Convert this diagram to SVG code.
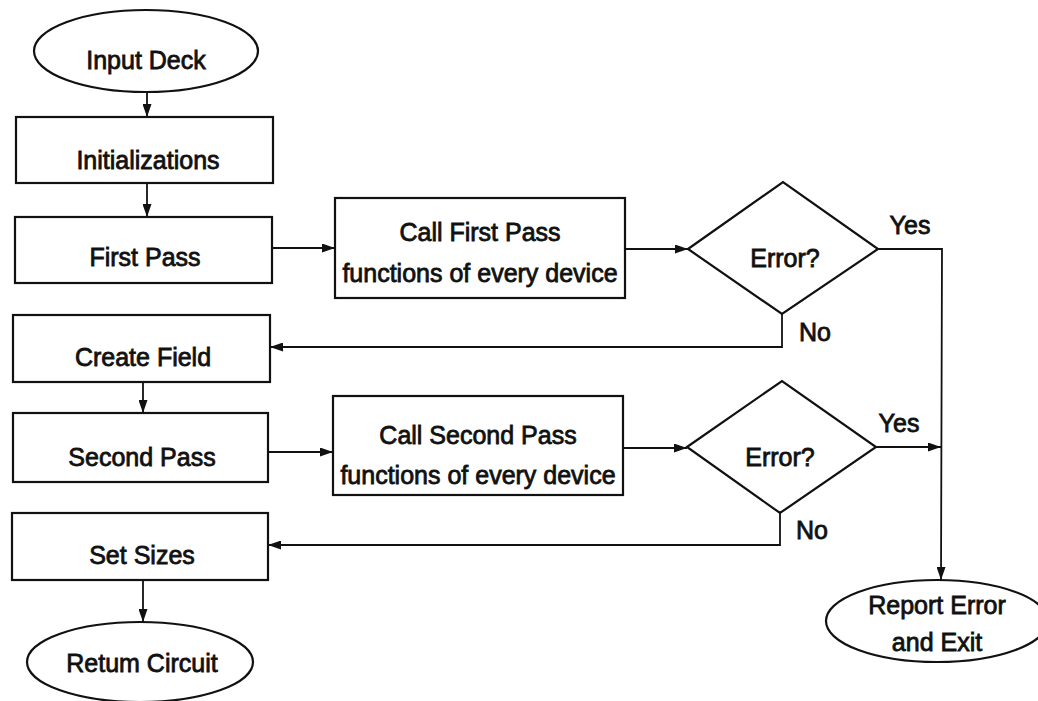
<svg xmlns="http://www.w3.org/2000/svg" width="1038" height="701" viewBox="0 0 1038 701">
<style>
.box{fill:#fff;stroke:#111;stroke-width:2.2}
.t{font-family:"Liberation Sans",Arial,sans-serif;font-size:25px;fill:#111;stroke:#111;stroke-width:0.8;text-anchor:middle}
.c{fill:none;stroke:#111;stroke-width:1.8}
</style>
<defs>
<marker id="ah" markerUnits="userSpaceOnUse" markerWidth="13" markerHeight="9" refX="13" refY="4.5" orient="auto">
<path d="M0,0 L13,4.5 L0,9 z" fill="#111"/>
</marker>
</defs>
<rect width="1038" height="701" fill="#fff"/>
<g id="connectors">
<path class="c" d="M147,93 L147,117" marker-end="url(#ah)"/>
<path class="c" d="M147,183 L147,217" marker-end="url(#ah)"/>
<path class="c" d="M272,248 L335,248" marker-end="url(#ah)"/>
<path class="c" d="M625,249 L688,249" marker-end="url(#ah)"/>
<path class="c" d="M878,249 L942,249 L941,580" marker-end="url(#ah)"/>
<path class="c" d="M782,314 L782,347 L270,347" marker-end="url(#ah)"/>
<path class="c" d="M143,382 L143,413" marker-end="url(#ah)"/>
<path class="c" d="M268,452 L333,452" marker-end="url(#ah)"/>
<path class="c" d="M623,448 L687,448" marker-end="url(#ah)"/>
<path class="c" d="M876,447 L941,447" marker-end="url(#ah)"/>
<path class="c" d="M780,513 L780,545 L268,545" marker-end="url(#ah)"/>
<path class="c" d="M143,580 L143,622" marker-end="url(#ah)"/>
</g>
<g id="input-deck">
<ellipse class="box" cx="146" cy="51" rx="112" ry="41"/>
<text class="t" x="146" y="69">Input Deck</text>
</g>
<g id="initializations">
<rect class="box" x="16" y="117" width="257" height="66"/>
<text class="t" x="148" y="169">Initializations</text>
</g>
<g id="first-pass">
<rect class="box" x="15" y="217" width="257" height="66"/>
<text class="t" x="145" y="266">First Pass</text>
</g>
<g id="call-first-pass">
<rect class="box" x="335" y="198" width="290" height="100"/>
<text class="t" x="480" y="241">Call First Pass</text>
<text class="t" x="480" y="282">functions of every device</text>
</g>
<g id="error1">
<polygon class="box" points="688,249 783,182 878,249 782,314"/>
<text class="t" x="785" y="267">Error?</text>
</g>
<text class="t" x="910" y="234">Yes</text>
<text class="t" x="815" y="341">No</text>
<g id="create-field">
<rect class="box" x="13" y="315" width="257" height="67"/>
<text class="t" x="143" y="366">Create Field</text>
</g>
<g id="second-pass">
<rect class="box" x="13" y="413" width="255" height="69"/>
<text class="t" x="142" y="466">Second Pass</text>
</g>
<g id="call-second-pass">
<rect class="box" x="333" y="396" width="290" height="99"/>
<text class="t" x="478" y="444">Call Second Pass</text>
<text class="t" x="478" y="484">functions of every device</text>
</g>
<g id="error2">
<polygon class="box" points="687,447 782,381 876,447 780,513"/>
<text class="t" x="780" y="466">Error?</text>
</g>
<text class="t" x="899" y="432">Yes</text>
<text class="t" x="812" y="539">No</text>
<g id="set-sizes">
<rect class="box" x="12" y="513" width="256" height="67"/>
<text class="t" x="142" y="564">Set Sizes</text>
</g>
<g id="return-circuit">
<ellipse class="box" cx="140" cy="662" rx="113" ry="40"/>
<text class="t" x="142" y="672">Retum Circuit</text>
</g>
<g id="report-error">
<ellipse class="box" cx="937" cy="621" rx="111" ry="41"/>
<text class="t" x="937" y="614">Report Error</text>
<text class="t" x="937" y="651">and Exit</text>
</g>
</svg>
